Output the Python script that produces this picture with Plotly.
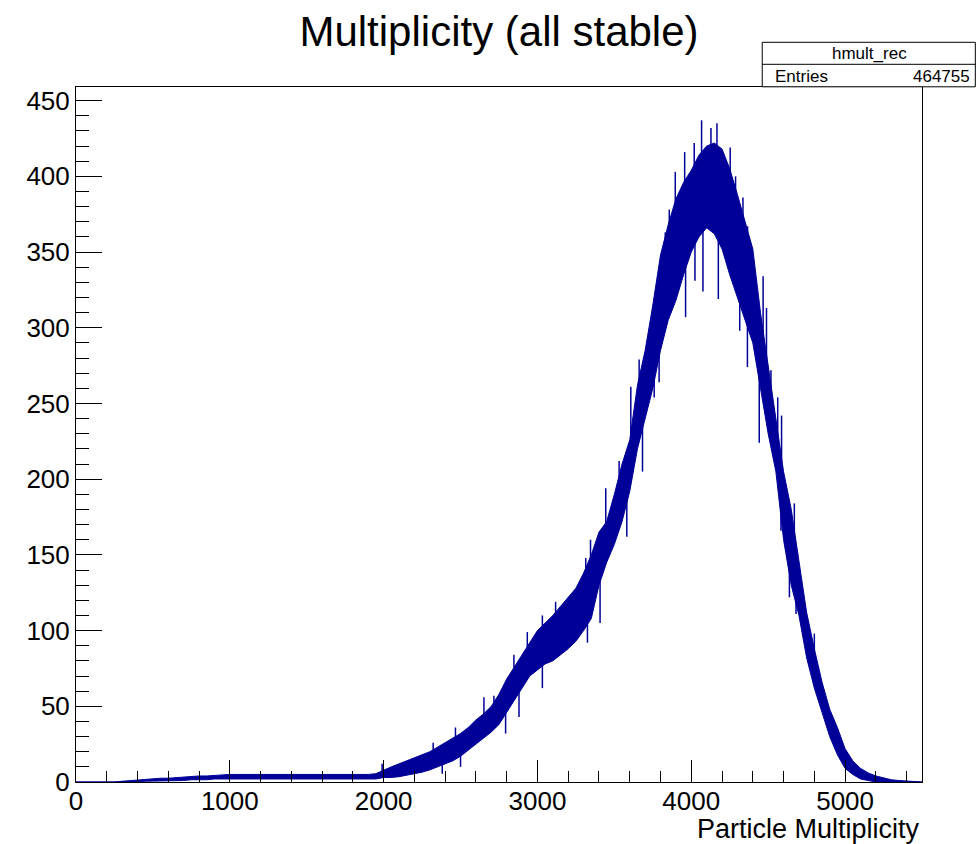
import numpy as np
import plotly.graph_objects as go

# Histogram band (bin-to-bin fluctuation envelope), sampled every 50 units
mult_x = list(range(0, 5501, 50))
band_lo = [0, 0, 0, 0, 0, 0, 0, 0, 0, 0.5, 0.5, 1, 1, 1, 1, 1.5, 1.5, 1.5, 2, 2,
           2, 2, 2, 2, 2, 2, 2, 2, 2, 2, 2, 2, 2, 2, 2, 2, 2, 2, 2, 2,
           3, 3, 3.5, 4.5, 5.5, 6.5, 8, 10, 12, 14, 17, 21, 25, 29, 33, 38, 46, 54, 62, 70,
           74, 78, 80, 84, 88, 93, 100, 108, 130, 145, 157, 172, 192, 220, 240, 260, 285, 305, 318, 335,
           350, 360, 366, 362, 352, 335, 320, 305, 290, 260, 230, 205, 160, 130, 110, 82, 62, 46, 30, 18,
           9, 5, 2, 1, 0, 0, 0, 0, 0, 0, 0]
band_hi = [0, 0, 0, 0, 0, 0, 0.5, 1, 1.5, 2, 2, 2.5, 2.5, 3, 3.5, 3.5, 4, 4, 4.5, 4.5,
           5, 5, 5, 5, 5, 5, 5, 5, 5, 5, 5, 5, 5, 5, 5, 5, 5, 5, 5, 5.5,
           8, 10, 12, 14, 16, 18, 20, 23, 26, 29, 32, 36, 41, 45, 50, 58, 68, 76, 84, 92,
           100, 105, 110, 116, 122, 128, 138, 150, 165, 172, 190, 210, 226, 262, 285, 315, 348, 368, 385, 396,
           404, 414, 420, 422, 418, 405, 388, 370, 352, 310, 275, 240, 205, 180, 145, 112, 88, 66, 48, 36,
           22, 14, 9, 6, 4, 2.5, 1.5, 1, 0.5, 0, 0]

# Individual bins sticking out of the band
spike_x = [1990, 2322, 2467, 2652, 2717, 2847, 2934, 3032, 3118, 3314, 3345, 3444,
           3531, 3607, 3661, 3831, 3857, 3896, 3957, 4019, 4067, 4128, 4167, 4253,
           4288, 4336, 4366, 4467, 4489, 4518, 4562, 4587, 4670, 4800]
spike_y = [12, 26, 36, 56, 57, 84, 99, 110, 119, 148, 160, 194,
           212, 261, 279, 363, 378, 403, 416, 422, 437, 432, 435, 419,
           400, 386, 367, 334, 313, 272, 254, 242, 184, 98]
dip_x = [2381, 2500, 2793, 2880, 3032, 3325, 3407, 3581, 3683, 3759, 3791, 3963,
         4024, 4076, 4176, 4315, 4365, 4442, 4583, 4638, 4681]
dip_y = [5.5, 10, 32, 43, 62, 92, 105, 162, 205, 254, 264, 307,
         331, 324, 319, 298, 274, 224, 166, 122, 111]

x_ticks = [0, 1000, 2000, 3000, 4000, 5000]
y_ticks = [0, 50, 100, 150, 200, 250, 300, 350, 400, 450]

COL = "#000099"
FONT = "Liberation Sans, Arial, Helvetica, sans-serif"

fig = go.Figure()
fig.add_trace(go.Scatter(x=mult_x, y=band_lo, mode="lines",
                         line=dict(color=COL, width=1), showlegend=False, hoverinfo="skip"))
fig.add_trace(go.Scatter(x=mult_x, y=band_hi, mode="lines", fill="tonexty",
                         fillcolor=COL, line=dict(color=COL, width=1),
                         showlegend=False, hoverinfo="skip"))

mid = (np.array(band_lo) + np.array(band_hi)) / 2.0
sx, sy = [], []
for xv, yv in list(zip(spike_x, spike_y)) + list(zip(dip_x, dip_y)):
    base = float(np.interp(xv, mult_x, mid))
    sx += [xv, xv, None]
    sy += [base, yv, None]
fig.add_trace(go.Scatter(x=sx, y=sy, mode="lines", line=dict(color=COL, width=1.5),
                         showlegend=False, hoverinfo="skip"))

fig.update_layout(
    width=980, height=844,
    margin=dict(l=76, r=58, t=87, b=62),
    paper_bgcolor="white", plot_bgcolor="white",
    font=dict(family=FONT, color="black", size=26),
    title=dict(text="Multiplicity (all stable)", x=0.5, xref="paper",
               y=1 - 31 / 844, yref="container", yanchor="middle", xanchor="center",
               font=dict(size=42, family=FONT, color="black")),
    xaxis=dict(range=[0, 5500], tickvals=x_ticks, ticktext=[str(v) for v in x_ticks],
               ticks="inside", ticklen=22, tickwidth=1, tickcolor="black",
               minor=dict(dtick=200, tick0=0, ticks="inside", ticklen=11, tickcolor="black", tickwidth=1),
               showline=True, mirror=True, linecolor="black", linewidth=1,
               showgrid=False, zeroline=False, tickfont=dict(size=26), ticklabelstandoff=-4),
    yaxis=dict(range=[0, 459], tickvals=y_ticks, ticktext=[str(v) for v in y_ticks],
               ticks="inside", ticklen=26, tickwidth=1, tickcolor="black",
               minor=dict(dtick=10, tick0=0, ticks="inside", ticklen=13, tickcolor="black", tickwidth=1),
               showline=True, mirror=True, linecolor="black", linewidth=1,
               showgrid=False, zeroline=False, tickfont=dict(size=26), ticklabelstandoff=0),
)

# x-axis title (ROOT style, right aligned)
fig.add_annotation(text="Particle Multiplicity", xref="paper", yref="paper",
                   x=1.0, y=(781.7 - 829) / 695, xanchor="right", yanchor="middle",
                   showarrow=False, font=dict(size=27, family=FONT))

# stats box
px = lambda X: (X - 76) / 845.7
py = lambda Y: (781.7 - Y) / 695
fig.add_shape(type="rect", xref="paper", yref="paper", x0=px(762), x1=px(975), y0=py(86.5), y1=py(42),
              line=dict(color="black", width=1), fillcolor="white", layer="above")
fig.add_shape(type="line", xref="paper", yref="paper", x0=px(762), x1=px(975), y0=py(64), y1=py(64),
              line=dict(color="black", width=1), layer="above")
fig.add_annotation(text="hmult_rec", xref="paper", yref="paper", x=px(869), y=py(53),
                   xanchor="center", yanchor="middle", showarrow=False, font=dict(size=17, family=FONT))
fig.add_annotation(text="Entries", xref="paper", yref="paper", x=px(773), y=py(76),
                   xanchor="left", yanchor="middle", showarrow=False, font=dict(size=17, family=FONT))
fig.add_annotation(text="464755", xref="paper", yref="paper", x=px(972), y=py(76),
                   xanchor="right", yanchor="middle", showarrow=False, font=dict(size=17, family=FONT))

fig.write_html("out.html", config={"displayModeBar": False},
               post_script="document.body.style.margin='0';")
